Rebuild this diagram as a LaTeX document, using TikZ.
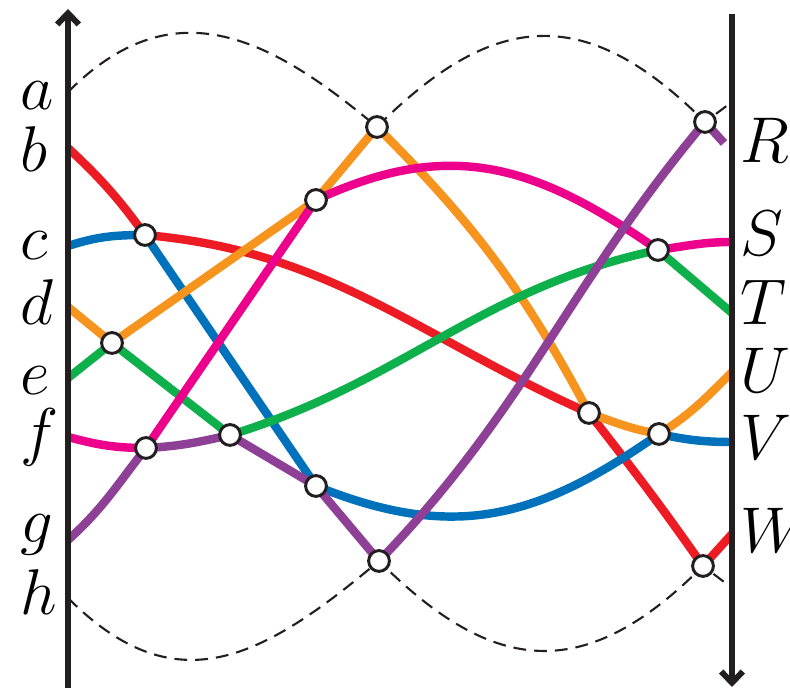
\RequirePackage{fix-cm}
\documentclass[tikz,border=0pt]{standalone}
\usetikzlibrary{arrows.meta,backgrounds}
\definecolor{axisblack}{HTML}{231F20}
\definecolor{wirered}{HTML}{ED1C24}
\definecolor{wireblue}{HTML}{0072BC}
\definecolor{wireorange}{HTML}{F7941D}
\definecolor{wiregreen}{HTML}{0DB04B}
\definecolor{wirepink}{HTML}{EC008C}
\definecolor{wirepurple}{HTML}{8E3F96}

\begin{document}
\begin{tikzpicture}[
    x=0.025cm, y=0.025cm,
    axis/.style={line width=4.2pt, draw=axisblack, -{Straight Barb[length=2.8mm, width=5.4mm]}},
    strand/.style={line width=6pt, line join=round},
    guide/.style={line width=1.5pt, draw=axisblack, dash pattern=on 3.2mm off 2mm},
    swap/.style={circle, draw=axisblack, fill=white, line width=2.1pt, minimum size=5.2mm, inner sep=0pt},
    lbl/.style={font=\fontsize{46}{48}\selectfont, inner sep=0pt, anchor=base west}
]
\useasboundingbox (0,0) rectangle (790,688);

% --- ends on the axes ---
\coordinate (a) at (68,596);
\coordinate (b) at (68,540);
\coordinate (c) at (68,442);
\coordinate (d) at (68,381);
\coordinate (e) at (68,310);
\coordinate (f) at (68,251);
\coordinate (g) at (68,148);
\coordinate (h) at (68,90);

\coordinate (dtop_r) at (732,586);
\coordinate (R) at (724,545);
\coordinate (S) at (732,446);
\coordinate (T) at (732,375);
\coordinate (U) at (732,316);
\coordinate (V) at (732,246);
\coordinate (W) at (732,154);
\coordinate (dbot_r) at (732,100);

\coordinate (axl_bot) at (68,0);
\coordinate (axl_top) at (68,679);
\coordinate (axr_top) at (732,674);
\coordinate (axr_bot) at (732,1);

% --- crossings ---
\node[swap] (x1) at (145,453) {};
\node[swap] (x2) at (112,345) {};
\node[swap] (x3) at (146,240) {};
\node[swap] (x4) at (230,253) {};
\node[swap] (x5) at (316,488) {};
\node[swap] (x6) at (377,561) {};
\node[swap] (x7) at (316,202) {};
\node[swap] (x8) at (379,127) {};
\node[swap] (x9) at (705,566) {};
\node[swap] (x10) at (658,438) {};
\node[swap] (x11) at (589,275) {};
\node[swap] (x12) at (659,254) {};
\node[swap] (x13) at (703,122) {};

% --- labels ---
\node[lbl] (la) at (20,578) {$a$};
\node[lbl] (lb) at (20,516) {$b$};
\node[lbl] (lc) at (20,428) {$c$};
\node[lbl] (ld) at (20,363) {$d$};
\node[lbl] (le) at (20,293) {$e$};
\node[lbl] (lf) at (20,234) {$f$};
\node[lbl] (lg) at (20,145) {$g$};
\node[lbl] (lh) at (20,73) {$h$};

\node[lbl] (lR) at (740,525) {$R$};
\node[lbl] (lS) at (740,432) {$S$};
\node[lbl] (lT) at (740,363) {$T$};
\node[lbl] (lU) at (740,295) {$U$};
\node[lbl] (lV) at (740,228) {$V$};
\node[lbl] (lW) at (740,135) {$W$};

\begin{scope}[on background layer]
% --- dashed guides ---
\draw[guide] (a) to[out=45,in=140,looseness=1.2] (x6.center)
    to[out=45,in=135,looseness=1.3] (x9.center) -- (dtop_r);
\draw[guide] (h) to[out=-45,in=-140,looseness=1.25] (x8.center)
    to[out=-45,in=-135,looseness=1.3] (x13.center) -- (dbot_r);

% --- strands ---
\draw[strand, wirered] (b) to[out=-43,in=126] (x1.center)
    to[out=-5,in=156] (x11.center) to[out=-52,in=125] (x13.center) -- (W);
\draw[strand, wireblue] (c) to[out=18,in=180] (x1.center) -- (x7.center)
    to[out=-22,in=-145,looseness=1.1] (x12.center) to[out=-12,in=180] (V);
\draw[strand, wireorange] (d) -- (x2.center) -- (x5.center) -- (x6.center)
    to[out=-45,in=118] (x11.center) to[out=-20,in=170] (x12.center)
    to[out=32,in=-135] (U);
\draw[strand, wiregreen] (e) -- (x2.center) -- (x4.center)
    to[out=17,in=-168] (x10.center) -- (T);
\draw[strand, wirepink] (f) to[out=-15,in=180] (x3.center) -- (x5.center)
    to[out=25,in=145,looseness=1.1] (x10.center) to[out=8,in=180] (S);
\draw[strand, wirepurple] (g) to[out=42,in=-128] (x3.center)
    to[out=3,in=-167] (x4.center) -- (x7.center) -- (x8.center)
    to[out=46,in=-130] (x9.center) -- (R);

% --- axes ---
\draw[axis] (axl_bot) -- (axl_top);
\draw[axis] (axr_top) -- (axr_bot);
\end{scope}

\end{tikzpicture}
\end{document}
